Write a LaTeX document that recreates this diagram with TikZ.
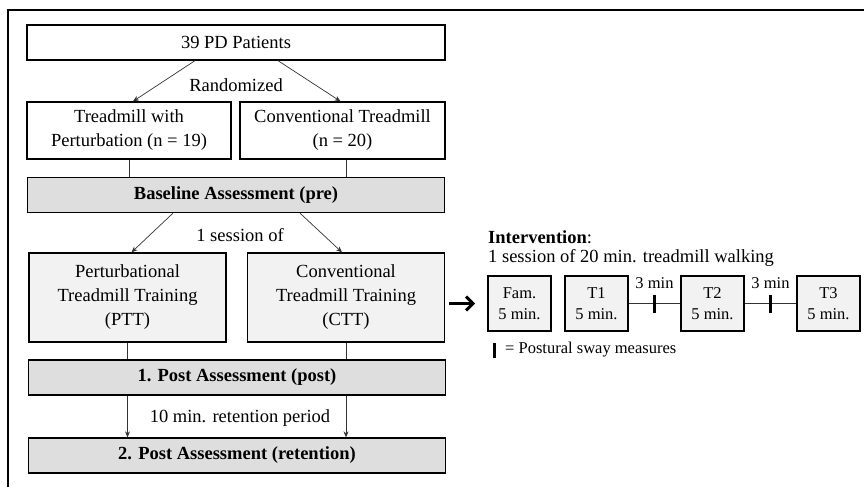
\documentclass[tikz,border=0pt]{standalone}
\usepackage{fontspec}
\setmainfont{Liberation Serif}
\usepackage{xcolor}
\usetikzlibrary{calc,arrows.meta}
\definecolor{barfill}{RGB}{222,222,222}
\definecolor{boxfill}{RGB}{242,242,242}

\begin{document}
\begin{tikzpicture}[x=1pt,y=-1pt,
	  every node/.style={font=\fontsize{18.5}{24}\selectfont,inner sep=0pt,align=center},
	  group/.style={draw,line width=1.3pt,minimum height=57pt},
	  assess/.style={draw,line width=1.3pt,fill=barfill,minimum width=417pt,minimum height=35pt,font=\fontsize{18.5}{24}\selectfont\bfseries},
	  training/.style={draw,line width=1.3pt,fill=boxfill,minimum width=197pt,minimum height=89pt},
	  phase/.style={draw,line width=1.7pt,fill=boxfill,minimum width=63pt,minimum height=55pt,font=\fontsize{16.5}{21}\selectfont},
	  small/.style={font=\fontsize{16.5}{21}\selectfont},
	  conn/.style={line width=0.7pt,draw=black!80},
	  arr/.style={conn,-{Stealth[length=6pt,width=5pt]}},
	  sway/.style={line width=3pt}]
	  \useasboundingbox (0,0) rectangle (864,487);
	  \draw [line width=2pt] (8,487) -- (8,10) -- (864,10);
	  % study flow
	  \node [draw,line width=1.3pt,minimum width=418pt,minimum height=35pt] (pat) at (236,42.5) {39 PD Patients};
	  \node [group,minimum width=204pt] (tp) at (129,130.5) {Treadmill with\\Perturbation (n = 19)};
	  \node [group,minimum width=205pt] (ct) at (342.5,130.5) {Conventional Treadmill\\(n = 20)};
	  \node [assess] (base) at (236,195) {Baseline Assessment (pre)};
	  \node [training] (ptt) at (127.5,297.5) {Perturbational\\Treadmill Training\\(PTT)};
	  \node [training] (ctt) at (346,297.5) {Conventional\\Treadmill Training\\(CTT)};
	  \node [assess] (post) at (237,377.5) {1. Post Assessment (post)};
	  \node [assess] (ret) at (237,455.5) {2. Post Assessment (retention)};
	  \node (rand) at (236,85) {Randomized};
	  \node (sess) at (240,235) {1 session of};
	  \node (reten) at (240,418) {10 min. retention period};
	  \draw [arr] ($(pat.south)+(-41,0)$) -- ($(tp.north)+(4,0)$);
	  \draw [arr] ($(pat.south)+(42,0)$) -- ($(ct.north)+(-2,0)$);
	  \draw [conn] (tp.south) -- (tp.south |- base.north);
	  \draw [conn] ($(ct.south)+(4,0)$) -- ($(ct.south |- base.north)+(4,0)$);
	  \draw [arr] ($(base.south)+(-63,0)$) -- ($(ptt.north)+(4,0)$);
	  \draw [arr] ($(base.south)+(64,0)$) -- ($(ctt.north)+(-4,0)$);
	  \draw [conn] (ptt.south) -- (ptt.south |- post.north);
	  \draw [conn] (ctt.south) -- (ctt.south |- post.north);
	  \draw [arr] (ptt.south |- post.south) -- (ptt.south |- ret.north);
	  \draw [arr] (ctt.south |- post.south) -- (ctt.south |- ret.north);
	  % intervention
	  \node [anchor=west] (intv) at (488,237) {\textbf{Intervention}:};
	  \node [anchor=west] (plan) at (488,258) {1 session of 20 min. treadmill walking};
	  \node [phase] (fam) at (519.5,303.5) {Fam.\\5 min.};
	  \node [phase] (t1) at (596.5,303.5) {T1\\5 min.};
	  \node [phase] (t2) at (712.5,303.5) {T2\\5 min.};
	  \node [phase] (t3) at (828.5,303.5) {T3\\5 min.};
	  \draw [line width=3pt,-{Straight Barb[length=7pt,width=14pt]}] ($(ctt.east |- fam.west)+(4,0)$) -- ($(fam.west)+(-12,0)$);
	  \draw [conn] (t1) -- (t2) coordinate[midway] (m1);
	  \draw [conn] (t2) -- (t3) coordinate[midway] (m2);
	  \draw [sway] ($(m1)+(0,-9)$) -- ($(m1)+(0,9)$);
	  \draw [sway] ($(m2)+(0,-9)$) -- ($(m2)+(0,9)$);
	  \node [small] (gap1) at ($(m1)+(0,-20)$) {3 min};
	  \node [small] (gap2) at ($(m2)+(0,-20)$) {3 min};
	  \draw [sway] (494,343) -- (494,358);
	  \node [small,anchor=west] (key) at (505,350) {= Postural sway measures};
	\end{tikzpicture}
\end{document}
